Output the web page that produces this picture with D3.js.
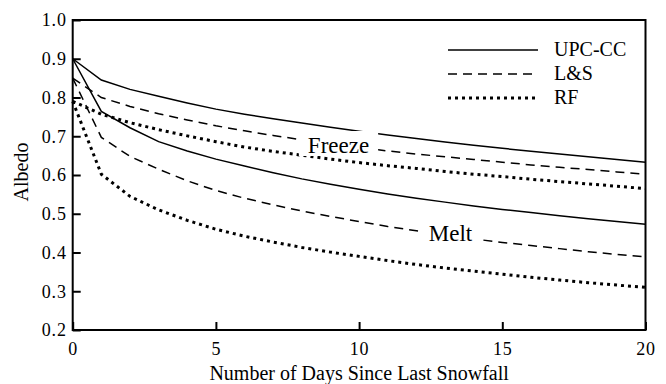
<!DOCTYPE html>
<html>
<head>
<meta charset="utf-8">
<script src="https://cdn.jsdelivr.net/npm/d3@7"></script>
<style>
  html, body { margin: 0; padding: 0; background: #fff; }
  svg { display: block; }
</style>
</head>
<body>
<svg id="chart" width="666" height="384"></svg>
<script>
// Days since last snowfall (daily steps)
const days = d3.range(0, 21);

// Albedo decay under freezing conditions
const freezeUPC = [0.900, 0.845, 0.821, 0.803, 0.786, 0.770, 0.757, 0.745, 0.734, 0.723, 0.713,
                   0.703, 0.694, 0.685, 0.677, 0.669, 0.661, 0.654, 0.647, 0.640, 0.633];
const freezeLS  = [0.850, 0.800, 0.777, 0.758, 0.742, 0.727, 0.714, 0.702, 0.691, 0.681, 0.671,
                   0.662, 0.654, 0.647, 0.640, 0.633, 0.626, 0.620, 0.614, 0.608, 0.602];
const freezeRF  = [0.790, 0.757, 0.735, 0.717, 0.701, 0.686, 0.672, 0.661, 0.651, 0.641, 0.632,
                   0.624, 0.617, 0.609, 0.602, 0.596, 0.589, 0.583, 0.577, 0.571, 0.565];

// Albedo decay under melting conditions
const meltUPC = [0.900, 0.764, 0.722, 0.686, 0.662, 0.641, 0.623, 0.606, 0.590, 0.576, 0.563,
                 0.551, 0.540, 0.530, 0.520, 0.511, 0.503, 0.495, 0.487, 0.480, 0.473];
const meltLS  = [0.850, 0.697, 0.648, 0.615, 0.585, 0.560, 0.540, 0.523, 0.507, 0.493, 0.480,
                 0.467, 0.456, 0.445, 0.435, 0.426, 0.418, 0.410, 0.402, 0.395, 0.389];
const meltRF  = [0.790, 0.602, 0.545, 0.510, 0.483, 0.460, 0.442, 0.427, 0.413, 0.401, 0.390,
                 0.379, 0.369, 0.360, 0.352, 0.344, 0.336, 0.329, 0.322, 0.316, 0.310];

const legendNames = ["UPC-CC", "L&S", "RF"];
const xTicks = [0, 5, 10, 15, 20];
const yTicks = [0.2, 0.3, 0.4, 0.5, 0.6, 0.7, 0.8, 0.9, 1.0];

const FONT = "Liberation Serif";

const styles = {
  "UPC-CC": { width: 1.5, dash: null },
  "L&S":    { width: 1.5, dash: "9,6" },
  "RF":     { width: 3,   dash: "3,4" }
};

const seriesList = [
  { name: "UPC-CC", values: freezeUPC },
  { name: "L&S",    values: freezeLS },
  { name: "RF",     values: freezeRF },
  { name: "UPC-CC", values: meltUPC },
  { name: "L&S",    values: meltLS },
  { name: "RF",     values: meltRF }
];

const svg = d3.select("#chart");
const plotL = 72.7, plotR = 645.5, plotT = 20, plotB = 330;

const x = d3.scaleLinear().domain([0, 20]).range([plotL, plotR]);
const y = d3.scaleLinear().domain([0.2, 1.0]).range([plotB, plotT]);

// Curves
const line = d3.line().x((d, i) => x(days[i])).y(d => y(d));
svg.append("g").selectAll("path")
  .data(seriesList)
  .join("path")
  .attr("d", d => line(d.values))
  .attr("fill", "none")
  .attr("stroke", "#000")
  .attr("stroke-width", d => styles[d.name].width)
  .attr("stroke-dasharray", d => styles[d.name].dash);

// Condition labels on a white backing
function condLabel(txt, cx, baseline, padX, padTop) {
  const g = svg.append("g");
  const t = g.append("text")
    .attr("x", cx).attr("y", baseline)
    .attr("text-anchor", "middle")
    .attr("font-family", FONT)
    .attr("font-size", 23)
    .attr("fill", "#000")
    .text(txt);
  const b = t.node().getBBox();
  g.insert("rect", "text")
    .attr("x", b.x - padX).attr("y", baseline - 17 - padTop)
    .attr("width", b.width + 2 * padX)
    .attr("height", 20 + padTop)
    .attr("fill", "#fff");
}
condLabel("Freeze", 338.5, 153, 9, 5);
condLabel("Melt", 450.5, 241, 6, 1);

// Axes with inward ticks
const yAxis = d3.axisLeft(y).tickValues(yTicks).tickSize(-8).tickPadding(6)
  .tickFormat(d3.format(".1f"));
const xAxis = d3.axisBottom(x).tickValues(xTicks).tickSize(-8).tickPadding(12)
  .tickFormat(d3.format("d"));

const gy = svg.append("g").attr("transform", `translate(${plotL},0)`).call(yAxis);
const gx = svg.append("g").attr("transform", `translate(0,${plotB})`).call(xAxis);
[gx, gy].forEach(g => {
  g.attr("font-family", FONT).attr("font-size", 18);
  g.select(".domain").remove();
  g.selectAll(".tick line").attr("stroke", "#000").attr("stroke-width", 2);
  g.selectAll(".tick text")
    .attr("letter-spacing", 0.8)
    .attr("fill", "#000");
});

// Frame
svg.append("rect")
  .attr("x", plotL).attr("y", plotT)
  .attr("width", plotR - plotL).attr("height", plotB - plotT)
  .attr("fill", "none").attr("stroke", "#000").attr("stroke-width", 2);

// Axis titles
svg.append("text")
  .attr("x", (plotL + plotR) / 2).attr("y", 380)
  .attr("text-anchor", "middle").attr("font-size", 20)
  .attr("font-family", FONT).attr("fill", "#000")
  .text("Number of Days Since Last Snowfall");
svg.append("text")
  .attr("transform", `translate(28,${(plotT + plotB) / 2 - 3}) rotate(-90)`)
  .attr("text-anchor", "middle").attr("font-size", 20)
  .attr("font-family", FONT).attr("fill", "#000")
  .text("Albedo");

// Legend
const legend = svg.append("g");
legendNames.forEach((name, i) => {
  const ly = 50 + i * 24;
  legend.append("line")
    .attr("x1", 448).attr("x2", 538).attr("y1", ly).attr("y2", ly)
    .attr("stroke", "#000")
    .attr("stroke-width", styles[name].width)
    .attr("stroke-dasharray", styles[name].dash);
  legend.append("text")
    .attr("x", 554).attr("y", ly + 6)
    .attr("font-size", 20)
    .attr("font-family", FONT).attr("fill", "#000")
    .text(name);
});
</script>
</body>
</html>
